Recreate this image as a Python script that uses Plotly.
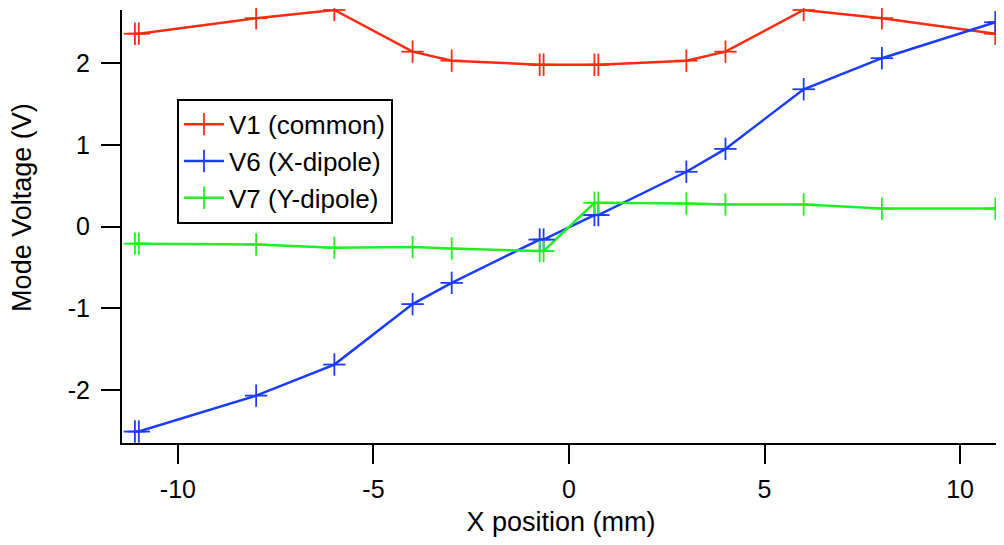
import plotly.graph_objects as go

x_pos = [-11.1, -11.0, -8, -6, -4, -3, -0.75, -0.65, 0.65, 0.75, 3, 4, 6, 8, 10.9, 11.0]
v1_common = [2.36, 2.36, 2.55, 2.65, 2.14, 2.03, 1.98, 1.98, 1.98, 1.98, 2.03, 2.14, 2.65, 2.55, 2.36, 2.36]
v6_xdipole = [-2.51, -2.51, -2.07, -1.69, -0.95, -0.69, -0.16, -0.16, 0.14, 0.14, 0.67, 0.95, 1.68, 2.06, 2.50, 2.50]
v7_ydipole = [-0.21, -0.21, -0.22, -0.26, -0.25, -0.27, -0.30, -0.30, 0.29, 0.29, 0.28, 0.27, 0.27, 0.22, 0.22, 0.22]

series = [
    ("V1 (common)", v1_common, "#ff2a10"),
    ("V6 (X-dipole)", v6_xdipole, "#1a3cff"),
    ("V7 (Y-dipole)", v7_ydipole, "#22ee22"),
]

FONT = "Liberation Sans, Arial, sans-serif"

fig = go.Figure()
for name, vals, col in series:
    fig.add_trace(go.Scatter(
        x=x_pos, y=vals, name=name, mode="lines+markers", cliponaxis=False,
        line=dict(color=col, width=2.5),
        marker=dict(symbol="line-ns", size=16, line=dict(color=col, width=1.8)),
    ))
# horizontal arm of the + markers
for name, vals, col in series:
    fig.add_trace(go.Scatter(
        x=x_pos, y=vals, mode="markers", showlegend=False, hoverinfo="skip",
        cliponaxis=False,
        marker=dict(symbol="line-ew", size=16, line=dict(color=col, width=1.8)),
    ))

fig.update_layout(
    width=996, height=537,
    margin=dict(l=114, r=4, t=2, b=102),
    paper_bgcolor="white", plot_bgcolor="white",
    font=dict(family=FONT, size=25, color="black"),
    showlegend=True,
    legend=dict(x=0.0626, y=0.795, xanchor="left", yanchor="top",
                bordercolor="black", borderwidth=2, bgcolor="white",
                font=dict(size=26), itemwidth=40, tracegroupgap=0),
    xaxis=dict(range=[-11.43, 11.02], showgrid=False, zeroline=False,
               showline=True, linecolor="black", linewidth=2,
               ticks="outside", ticklen=19, tickwidth=2, tickcolor="black",
               ticklabelstandoff=4, tickfont=dict(size=25),
               tickvals=[-10, -5, 0, 5, 10], ticktext=["-10", "-5", "0", "5", "10"],
               title=dict(text="X position (mm)", standoff=10, font=dict(size=27))),
    yaxis=dict(range=[-2.65, 2.65], showgrid=False, zeroline=False,
               showline=True, linecolor="black", linewidth=2,
               ticks="outside", ticklen=19, tickwidth=2, tickcolor="black",
               ticklabelstandoff=6, tickfont=dict(size=25),
               tickvals=[-2, -1, 0, 1, 2], ticktext=["-2", "-1", "0", "1", "2"]),
    annotations=[dict(text="Mode Voltage (V)", textangle=-90, xref="paper", yref="paper",
                      x=0, y=0.543, xshift=-100, xanchor="center", yanchor="middle",
                      showarrow=False, font=dict(size=27))],
)

fig.write_html("out.html")
